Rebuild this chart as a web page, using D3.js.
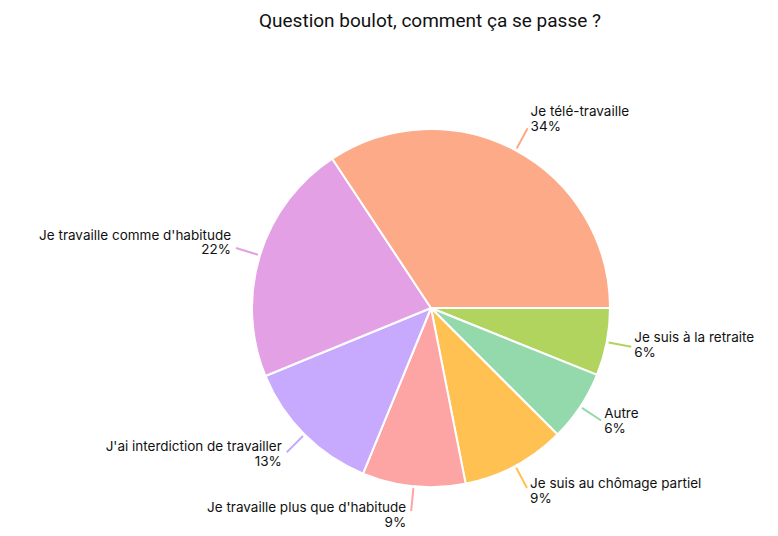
<!DOCTYPE html>
<html lang="fr">
<head>
    <meta charset="UTF-8">
    <title>Question boulot</title>
    <script src="https://d3js.org/d3.v7.min.js"></script>
    <style>
        body { margin: 0; background: #fff; }
        text { fill: #111; }
    </style>
</head>
<body>
<svg width="778" height="536"></svg>
<script>
    // categories, clockwise from 3 o'clock
    let categories = ["Je suis à la retraite", "Autre", "Je suis au chômage partiel",
        "Je travaille plus que d'habitude", "J'ai interdiction de travailler",
        "Je travaille comme d'habitude", "Je télé-travaille"]
    let values = [6.1, 6.4, 9.4, 9.3, 12.6, 21.9, 34.3]
    let colors = ["#b1d45f", "#94d9ab", "#ffc252", "#fda4a4", "#c7aafd", "#e3a0e5", "#fcaa88"]

    let svg = d3.select('svg')
    let cx = 431, cy = 308, R = 179

    svg.append("text")
        .attr("x", 430)
        .attr("y", 27)
        .attr("text-anchor", "middle")
        .style("font-family", "Roboto, sans-serif")
        .style("font-size", "19px")
        .text("Question boulot, comment ça se passe ?")

    let data = categories.map((c, i) => ({name: c, value: values[i], color: colors[i]}))

    let pie = d3.pie()
        .sort(null)
        .value(d => d.value)
        .startAngle(Math.PI / 2)
        .endAngle(Math.PI / 2 + 2 * Math.PI)

    let arcs = pie(data)
    let arc = d3.arc().innerRadius(0).outerRadius(R)

    let g = svg.append("g").attr('transform', `translate(${cx},${cy})`)

    g.selectAll("path")
        .data(arcs)
        .enter()
        .append("path")
        .attr("d", arc)
        .attr("fill", d => d.data.color)
        .attr("stroke", "#fff")
        .attr("stroke-width", 2)
        .attr("stroke-linejoin", "round")

    let total = d3.sum(values)
    let labels = g.selectAll(".lbl")
        .data(arcs)
        .enter()
        .append("g")

    labels.append("line")
        .attr("x1", d => (R + 2) * Math.sin((d.startAngle + d.endAngle) / 2))
        .attr("y1", d => -(R + 2) * Math.cos((d.startAngle + d.endAngle) / 2))
        .attr("x2", d => (R + 25) * Math.sin((d.startAngle + d.endAngle) / 2))
        .attr("y2", d => -(R + 25) * Math.cos((d.startAngle + d.endAngle) / 2))
        .attr("stroke", d => d.data.color)
        .attr("stroke-width", 2)

    labels.each(function(d) {
        let a = (d.startAngle + d.endAngle) / 2
        let ex = (R + 25) * Math.sin(a)
        let ey = -(R + 25) * Math.cos(a)
        let right = Math.sin(a) > 0
        let y0 = ey - 6 - 7 * Math.cos(a)
        let t = d3.select(this).append("text")
            .attr("text-anchor", right ? "start" : "end")
            .style("font-family", "Inter, sans-serif")
            .style("font-size", "13.5px")
        t.append("tspan")
            .attr("x", right ? ex + 3 : ex - 5)
            .attr("y", y0)
            .text(d.data.name)
        t.append("tspan")
            .attr("x", right ? ex + 3 : ex - 5)
            .attr("y", y0 + 14.5)
            .text(Math.round(d.data.value / total * 100) + "%")
    })
</script>
</body>
</html>
